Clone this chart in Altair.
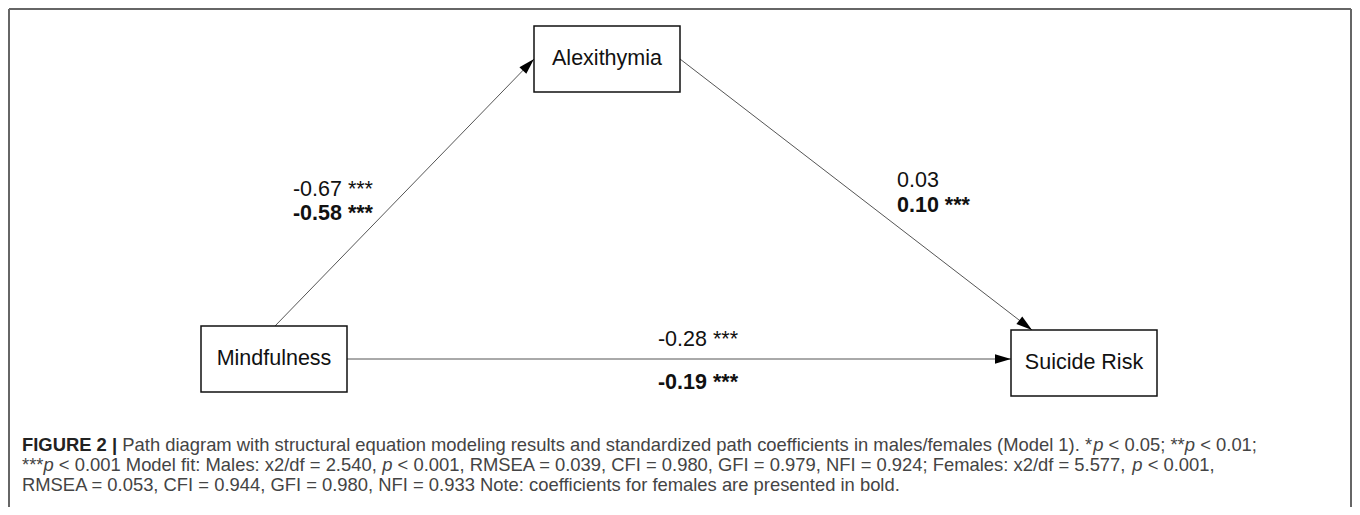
import math
import altair as alt
import pandas as pd

# ---------------- data ----------------
node_names = ["Alexithymia", "Mindfulness", "Suicide Risk"]
node_x0 = [534, 201, 1011]
node_x1 = [680, 347, 1157]
node_y0 = [26, 326, 330]
node_y1 = [92, 392, 396]

edge_from = ["Mindfulness", "Alexithymia", "Mindfulness"]
edge_to = ["Alexithymia", "Suicide Risk", "Suicide Risk"]
edge_x0 = [275, 680, 347]
edge_y0 = [326, 59, 359]
edge_x1 = [534, 1032, 1011]
edge_y1 = [59, 330, 359]

coef_text = ["-0.67 ***", "-0.58 ***", "0.03", "0.10 ***", "-0.28 ***", "-0.19 ***"]
coef_group = ["Males", "Females", "Males", "Females", "Males", "Females"]
coef_x = [373, 373, 897, 897, 698, 698]
coef_y = [196, 220, 187, 212, 346, 389]
coef_align = ["right", "right", "left", "left", "center", "center"]

caption_lines = [
    [("FIGURE 2 |", "bold"), (" Path diagram with structural equation modeling results and standardized path coefficients in males/females (Model 1). *", "normal"),
     ("p", "italic"), (" < 0.05; **", "normal"), ("p", "italic"), (" < 0.01;", "normal")],
    [("***", "normal"), ("p", "italic"), (" < 0.001 Model fit: Males: x2/df = 2.540, ", "normal"), ("p", "italic"),
     (" < 0.001, RMSEA = 0.039, CFI = 0.980, GFI = 0.979, NFI = 0.924; Females: x2/df = 5.577, ", "normal"),
     ("p", "italic"), (" < 0.001,", "normal")],
    [("RMSEA = 0.053, CFI = 0.944, GFI = 0.980, NFI = 0.933 Note: coefficients for females are presented in bold.", "normal")],
]

# ---------------- layout ----------------
FONT = "Liberation Sans"
LABEL_SIZE = 21.5
CAP_LEFT = 22
CAP_RIGHT = 1257
CAP_BASELINES = [451, 471, 491]

_reg = {' ': 278, '!': 278, '(': 333, ')': 333, '*': 389, '+': 584, ',': 278, '-': 333, '.': 278, '/': 278,
        ':': 278, ';': 278, '<': 584, '=': 584, '>': 584, '|': 260}
for d in "0123456789":
    _reg[d] = 556
_up = dict(A=667, B=667, C=722, D=722, E=667, F=611, G=778, H=722, I=278, J=500, K=667, L=556, M=833, N=722,
           O=778, P=667, Q=778, R=722, S=667, T=611, U=722, V=667, W=944, X=667, Y=667, Z=611)
_lo = dict(a=556, b=556, c=500, d=556, e=556, f=278, g=556, h=556, i=222, j=222, k=500, l=222, m=833, n=556,
           o=556, p=556, q=556, r=333, s=500, t=278, u=556, v=500, w=722, x=500, y=500, z=500)
_reg.update(_up)
_reg.update(_lo)
_bold = dict(_reg)
_bold.update({'|': 280, 'F': 611, 'I': 278, 'G': 778, 'U': 722, 'R': 722, 'E': 667})


def em(s, style):
    tbl = _bold if style == "bold" else _reg
    return sum(tbl.get(c, 556) for c in s) / 1000.0


line1_em = sum(em(t, s) for t, s in caption_lines[0])
CAP_SIZE = (CAP_RIGHT - CAP_LEFT) / line1_em

cap_rows = []
for li, line in enumerate(caption_lines):
    cur = CAP_LEFT
    for t, s in line:
        lead = len(t) - len(t.lstrip(" "))
        x = cur + em(t[:lead], s) * CAP_SIZE
        cap_rows.append(dict(text=t.strip(" "), style=s, x=x, y=CAP_BASELINES[li]))
        cur += em(t, s) * CAP_SIZE
cap_df = pd.DataFrame(cap_rows)

nodes_df = pd.DataFrame(dict(name=node_names, x0=node_x0, x1=node_x1, y0=node_y0, y1=node_y1))
nodes_df["cx"] = (nodes_df.x0 + nodes_df.x1) / 2
nodes_df["cy"] = (nodes_df.y0 + nodes_df.y1) / 2

edges_df = pd.DataFrame(dict(src=edge_from, dst=edge_to, x0=edge_x0, y0=edge_y0, x1=edge_x1, y1=edge_y1))
edges_df["angle"] = [
    (math.degrees(math.atan2(x1 - x0, -(y1 - y0))) + 360) % 360
    for x0, y0, x1, y1 in zip(edge_x0, edge_y0, edge_x1, edge_y1)
]

coef_df = pd.DataFrame(dict(text=coef_text, group=coef_group, x=coef_x, y=coef_y, align=coef_align))

frame_df = pd.DataFrame(dict(x0=[9, 9, 1351], y0=[9, 9, 9], x1=[9, 1351, 1351], y1=[507, 9, 507]))

XS = alt.Scale(domain=[8, 1352])
YS = alt.Scale(domain=[507, 8])


def X(f):
    return alt.X(f, type="quantitative", scale=XS, axis=None)


def Y(f):
    return alt.Y(f, type="quantitative", scale=YS, axis=None)


frame = alt.Chart(frame_df).mark_rule(color="#666666", strokeWidth=2).encode(
    x=X("x0"), y=Y("y0"), x2="x1", y2="y1")

boxes = alt.Chart(nodes_df).mark_rect(fill="white", stroke="#111111", strokeWidth=1.5).encode(
    x=X("x0"), x2="x1", y=Y("y0"), y2="y1")

edges = alt.Chart(edges_df).mark_rule(color="#555555", strokeWidth=1).encode(
    x=X("x0"), y=Y("y0"), x2="x1", y2="y1")

heads = alt.Chart(edges_df).mark_point(
    shape="M0,0 L0.6,2 L-0.6,2 Z", filled=True, color="#000000", opacity=1, size=256, strokeWidth=0
).encode(x=X("x1"), y=Y("y1"), angle=alt.Angle("angle:Q", scale=None))

node_text = alt.Chart(nodes_df).mark_text(
    font=FONT, fontSize=LABEL_SIZE, color="#111111", align="center", baseline="middle"
).encode(x=X("cx"), y=Y("cy"), text="name:N")

coef_layers = []
for al in ["right", "left", "center"]:
    for grp, wt in [("Males", "normal"), ("Females", "bold")]:
        coef_layers.append(
            alt.Chart(coef_df).transform_filter(
                (alt.datum.align == al) & (alt.datum.group == grp)
            ).mark_text(font=FONT, fontSize=LABEL_SIZE, fontWeight=wt, color="#111111", align=al,
                        baseline="alphabetic").encode(x=X("x"), y=Y("y"), text="text:N")
        )

cap_layers = []
for st in ["normal", "bold", "italic"]:
    kw = dict(font=FONT, fontSize=CAP_SIZE, align="left", baseline="alphabetic")
    if st == "bold":
        kw.update(fontWeight="bold", color="#222222")
    elif st == "italic":
        kw.update(fontStyle="italic", color="#444444")
    else:
        kw.update(color="#444444")
    cap_layers.append(
        alt.Chart(cap_df).transform_filter(alt.datum.style == st).mark_text(**kw).encode(
            x=X("x"), y=Y("y"), text="text:N")
    )

chart = alt.layer(frame, edges, boxes, heads, node_text, *coef_layers, *cap_layers).properties(
    width=1344, height=499, padding=0, autosize=alt.AutoSizeParams(type="none"), background="white"
).configure_view(stroke=None)

chart.save("out.html", embed_options={"renderer": "svg", "actions": False})
